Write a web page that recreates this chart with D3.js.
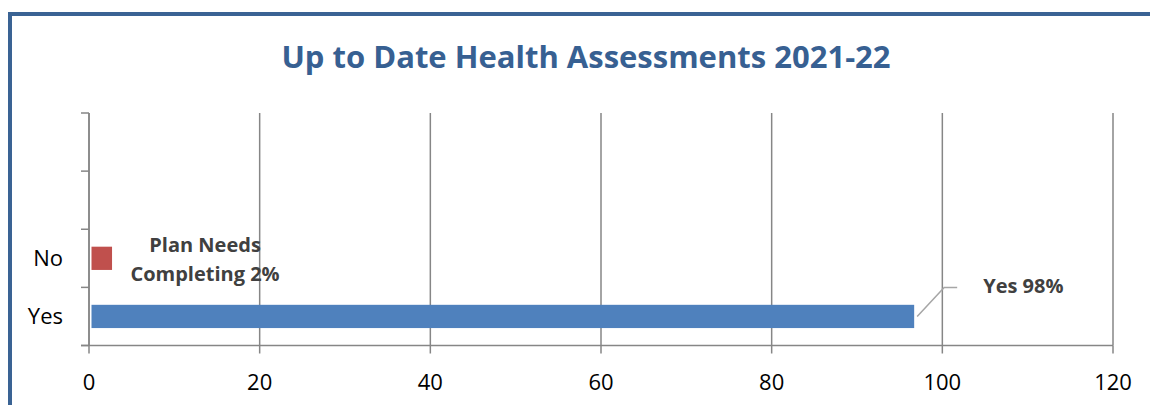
<!DOCTYPE html>
<html>
<head>
<meta charset="utf-8">
<script src="https://cdn.jsdelivr.net/npm/d3@7"></script>
<style>
  body { margin: 0; background: #fff; }
  svg { display: block; font-family: "Open Sans", "DejaVu Sans", sans-serif; }
</style>
</head>
<body>
<svg id="chart"></svg>
<script>
// chart values
const categories = ["Yes", "No", "", ""];
const values = [96.7, 2.7, null, null];
const barColors = ["#4f81bd", "#c0504d"];
const dataLabels = [["Yes 98%"], ["Plan Needs", "Completing 2%"]];
const xTicks = [0, 20, 40, 60, 80, 100, 120];
const titleText = "Up to Date Health Assessments 2021-22";

const canvasWidth = 1150;
const canvasHeight = 405;
const plotLeft = 89, plotRight = 1113, plotTop = 113, plotBottom = 345.5;
const gridColor = "#868686";

let svg_elem = d3.select("#chart")
	.attr("width", canvasWidth)
	.attr("height", canvasHeight);

// chart frame (runs off the right and bottom edge in the original)
svg_elem.append("rect")
	.attr("x", 10)
	.attr("y", 14)
	.attr("width", 1300)
	.attr("height", 600)
	.attr("fill", "#fff")
	.attr("stroke", "#3a6394")
	.attr("stroke-width", 4);

svg_elem.append("text")
	.attr("x", 586)
	.attr("y", 68)
	.attr("text-anchor", "middle")
	.attr("font-size", 31)
	.attr("font-weight", "bold")
	.attr("fill", "#376092")
	.text(titleText);

let x_scale = d3.scaleLinear()
	.domain([0, 120])
	.range([plotLeft, plotRight]);

let y_scale = d3.scaleBand()
	.domain(d3.range(categories.length))
	.range([plotBottom, plotTop])
	.paddingInner(0.6)
	.paddingOuter(0.3);

let step = y_scale.step();
let slotEdges = d3.range(categories.length + 1).map(i => plotBottom - i * step);

// vertical gridlines
svg_elem.selectAll(".grid")
	.data(xTicks).enter()
	.append("line")
	.attr("class", "grid")
	.attr("x1", d => x_scale(d))
	.attr("x2", d => x_scale(d))
	.attr("y1", plotTop)
	.attr("y2", plotBottom)
	.attr("stroke", gridColor)
	.attr("stroke-width", 1.5);

// bars
let barData = values.map((v, i) => ({ v: v, i: i })).filter(d => d.v !== null);
svg_elem.selectAll(".bar")
	.data(barData).enter()
	.append("rect")
	.attr("class", "bar")
	.attr("x", x_scale(0) + 2.5)
	.attr("y", d => y_scale(d.i))
	.attr("width", d => x_scale(d.v) - x_scale(0) - 2.5)
	.attr("height", y_scale.bandwidth())
	.attr("fill", d => barColors[d.i]);

// axes lines
svg_elem.append("line")
	.attr("x1", plotLeft).attr("x2", plotLeft)
	.attr("y1", plotTop).attr("y2", plotBottom)
	.attr("stroke", gridColor).attr("stroke-width", 1.5);
svg_elem.append("line")
	.attr("x1", plotLeft - 8).attr("x2", plotRight)
	.attr("y1", plotBottom).attr("y2", plotBottom)
	.attr("stroke", gridColor).attr("stroke-width", 1.5);

// category ticks sit on slot boundaries
svg_elem.selectAll(".ytick")
	.data(slotEdges).enter()
	.append("line")
	.attr("class", "ytick")
	.attr("x1", plotLeft - 8)
	.attr("x2", plotLeft)
	.attr("y1", d => d)
	.attr("y2", d => d)
	.attr("stroke", gridColor)
	.attr("stroke-width", 1.5);

svg_elem.selectAll(".xtick")
	.data(xTicks).enter()
	.append("line")
	.attr("class", "xtick")
	.attr("x1", d => x_scale(d))
	.attr("x2", d => x_scale(d))
	.attr("y1", plotBottom)
	.attr("y2", plotBottom + 8)
	.attr("stroke", gridColor)
	.attr("stroke-width", 1.5);

svg_elem.selectAll(".xlabel")
	.data(xTicks).enter()
	.append("text")
	.attr("class", "xlabel")
	.attr("x", d => x_scale(d))
	.attr("y", plotBottom + 44)
	.attr("text-anchor", "middle")
	.attr("font-size", 22)
	.attr("fill", "#000")
	.text(d => d);

svg_elem.selectAll(".ylabel")
	.data(categories).enter()
	.append("text")
	.attr("class", "ylabel")
	.attr("x", plotLeft - 26)
	.attr("y", (d, i) => y_scale(i) + y_scale.bandwidth() / 2 + 8)
	.attr("text-anchor", "end")
	.attr("font-size", 22)
	.attr("fill", "#000")
	.text(d => d);

// data labels
let yesMid = y_scale(0) + y_scale.bandwidth() / 2;
let yesEnd = x_scale(values[0]);
svg_elem.append("path")
	.attr("d", d3.line()([[yesEnd + 3, yesMid], [yesEnd + 30, yesMid - 29], [yesEnd + 43, yesMid - 29]]))
	.attr("fill", "none")
	.attr("stroke", "#a6a6a6")
	.attr("stroke-width", 1.5);
svg_elem.append("text")
	.attr("x", yesEnd + 69)
	.attr("y", yesMid - 23)
	.attr("font-size", 20)
	.attr("font-weight", "bold")
	.attr("fill", "#404040")
	.text(dataLabels[0][0]);

let noMid = y_scale(1) + y_scale.bandwidth() / 2;
let noEnd = x_scale(values[1]);
svg_elem.append("text")
	.attr("x", noEnd + 93)
	.attr("y", noMid - 6)
	.attr("text-anchor", "middle")
	.attr("font-size", 20)
	.attr("font-weight", "bold")
	.attr("fill", "#404040")
	.selectAll("tspan")
	.data(dataLabels[1]).enter()
	.append("tspan")
	.attr("x", noEnd + 93)
	.attr("dy", (d, i) => i === 0 ? 0 : 29)
	.text(d => d);
</script>
</body>
</html>
